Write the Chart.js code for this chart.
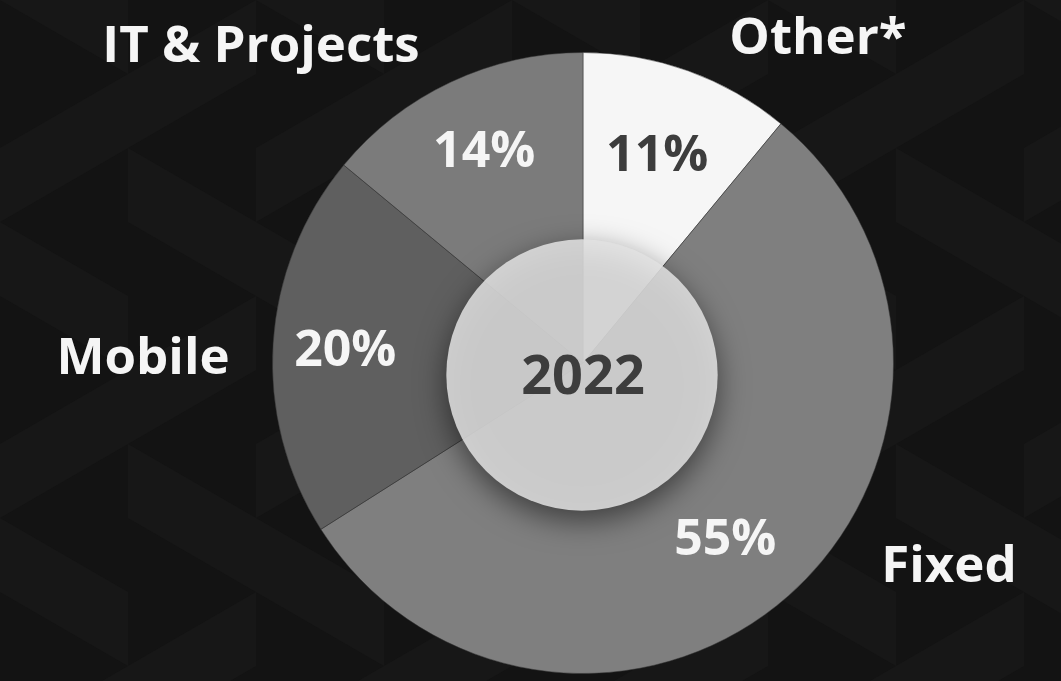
<!DOCTYPE html>
<html>
<head>
<meta charset="utf-8">
<script src="https://cdn.jsdelivr.net/npm/chart.js@4.4.1/dist/chart.umd.min.js"></script>
<style>
    html, body { margin: 0; padding: 0; background: #161616; }
    #wrap { width: 1061px; height: 681px; }
</style>
</head>
<body>
<div id="wrap"><canvas id="revenueChart" width="1061" height="681"></canvas></div>
<script>
// data, clockwise from 12 o'clock
const segmentNames = ["Other*", "Fixed", "Mobile", "IT & Projects"];
const segmentShares = [11, 55, 20, 14];
const segmentColors = ["#f6f6f6", "#7f7f7f", "#5f5f5f", "#7b7b7b"];
const percentColors = ["#3d3d3d", "#f5f5f5", "#f5f5f5", "#f5f5f5"];
const centerYear = "2022";

// category names: offset from pie centre (px)
const namePlacement = [
    { dx: 235, dy: -324 },
    { dx: 366, dy: 204 },
    { dx: -440, dy: -4 },
    { dx: -322, dy: -316 }
];
// percentages: nudge (deg) from slice middle and distance from centre (px)
const percentPlacement = [
    { turn: 0, dist: 219 },
    { turn: 2.8, dist: 228 },
    { turn: -1, dist: 238 },
    { turn: 0, dist: 232 }
];

document.addEventListener("DOMContentLoaded", function () {
    const ctx = document.getElementById("revenueChart").getContext("2d");
    const FONT = "'Open Sans', 'Noto Sans', sans-serif";

    // faint triangle texture behind everything
    const backdropPlugin = {
        id: "backdrop",
        beforeDraw(chart) {
            const c = chart.ctx;
            const w = 128, h = 148;
            c.save();
            c.fillStyle = "#171717";
            c.fillRect(0, 0, chart.width, chart.height);
            for (let col = -1; col * w < chart.width + w; col++) {
                for (let row = -1; row * h < chart.height + h; row++) {
                    const x0 = col * w;
                    const y0 = row * h + (col % 2 ? h / 2 : 0);
                    c.beginPath();
                    if ((col + row) % 2 === 0) {
                        c.moveTo(x0, y0);
                        c.lineTo(x0 + w, y0 + h / 2);
                        c.lineTo(x0, y0 + h);
                    } else {
                        c.moveTo(x0 + w, y0);
                        c.lineTo(x0, y0 + h / 2);
                        c.lineTo(x0 + w, y0 + h);
                    }
                    c.closePath();
                    c.fillStyle = "#131313";
                    c.fill();
                }
            }
            c.restore();
        }
    };

    // light disc over the middle + all text
    const overlayPlugin = {
        id: "overlay",
        afterDatasetsDraw(chart) {
            const c = chart.ctx;
            const arcs = chart.getDatasetMeta(0).data;
            const cx = arcs[0].x, cy = arcs[0].y;
            const R = arcs[0].outerRadius;
            const r = R * 0.437;

            c.save();
            c.shadowColor = "rgba(0,0,0,0.6)";
            c.shadowBlur = 30;
            c.shadowOffsetY = 10;
            c.beginPath();
            c.arc(cx - 1, cy + 12, r, 0, Math.PI * 2);
            c.fillStyle = "rgba(226,226,226,0.86)";
            c.fill();
            c.restore();

            c.save();
            c.textAlign = "center";
            c.textBaseline = "middle";

            // centre year
            c.fillStyle = "#3d3d3d";
            c.font = "bold 54px " + FONT;
            c.fillText(centerYear, cx, cy + 16);

            // percentages inside slices
            c.font = "bold 50px " + FONT;
            arcs.forEach((arc, i) => {
                const p = percentPlacement[i];
                const mid = (arc.startAngle + arc.endAngle) / 2 + p.turn * Math.PI / 180;
                c.fillStyle = percentColors[i];
                c.fillText(segmentShares[i] + "%", cx + Math.cos(mid) * p.dist, cy + Math.sin(mid) * p.dist);
            });

            // category names
            c.font = "bold 51px " + FONT;
            c.fillStyle = "#f5f5f5";
            namePlacement.forEach((p, i) => {
                c.fillText(segmentNames[i], cx + p.dx, cy + p.dy);
            });
            c.restore();
        }
    };

    new Chart(ctx, {
        type: "pie",
        data: {
            labels: segmentNames,
            datasets: [{
                data: segmentShares,
                backgroundColor: segmentColors,
                borderColor: "rgba(50,50,50,0.5)",
                borderWidth: 1
            }]
        },
        options: {
            responsive: false,
            animation: false,
            layout: {
                padding: { top: 52, bottom: 7, left: 272, right: 167 }
            },
            plugins: {
                legend: { display: false },
                tooltip: { enabled: false }
            }
        },
        plugins: [backdropPlugin, overlayPlugin]
    });
});
</script>
</body>
</html>
